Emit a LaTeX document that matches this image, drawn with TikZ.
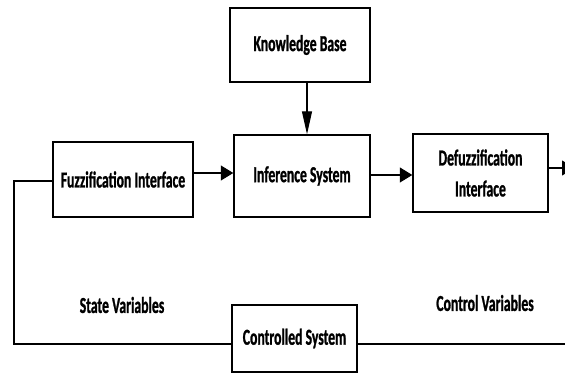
\documentclass[tikz,border=0pt]{standalone}
\usepackage{fontspec}
\setmainfont{Carlito}[FakeStretch=0.6, BoldFeatures={FakeBold=1}]
\usetikzlibrary{arrows.meta,positioning}

\tikzset{
block/.style={draw, line width=0.8pt, minimum width=#1, align=center, inner sep=0pt,
  font=\fontsize{13}{17.6}\selectfont\bfseries},
label/.style={font=\fontsize{13}{17.6}\selectfont\bfseries},
arr/.style={line width=0.6pt, -{Triangle[length=0.25cm,width=0.3cm]}},
arrv/.style={line width=0.6pt, -{Triangle[length=0.46cm,width=0.2cm]}},
link/.style={line width=0.6pt}
}

\begin{document}
\begin{tikzpicture}
\useasboundingbox (0,0) rectangle (11.3,7.48);
\node[block=2.8cm, minimum height=1.48cm] (kb) at (6.0,6.58) {Knowledge Base};
\node[block=2.72cm, minimum height=1.64cm] (inf) at (6.04,3.96) {Inference System};
\node[block=2.8cm, minimum height=1.5cm] (fuzz) at (2.46,3.89) {Fuzzification Interface};
\node[block=2.7cm, minimum height=1.56cm] (defuzz) at (9.61,4.02) {Defuzzification\\Interface};
\node[block=2.5cm, minimum height=1.34cm] (ctrl) at (5.89,0.71) {Controlled System};
\node[label] (state) at (2.44,1.38) {State Variables};
\node[label] (control) at (9.7,1.42) {Control Variables};

\coordinate (out) at (11.49,4.12);
\coordinate (corner) at (0.28,0.6);
\coordinate (edge) at (11.4,0.6);

\draw[arrv] (kb.south -| 6.14,0) -- (inf.north -| 6.14,0);
\draw[arr] ([yshift=0.13cm]fuzz.east) -- ([yshift=0.13cm]fuzz.east -| inf.west);
\draw[arr] ([yshift=0.02cm]inf.east) -- ([yshift=0.02cm]inf.east -| defuzz.west);
\draw[arr] (defuzz.east |- out) -- (out);
\draw[link] ([yshift=-0.03cm]fuzz.west) -| (corner) -- (corner -| ctrl.west);
\draw[link] (ctrl.east |- corner) -- (edge);
\end{tikzpicture}
\end{document}
